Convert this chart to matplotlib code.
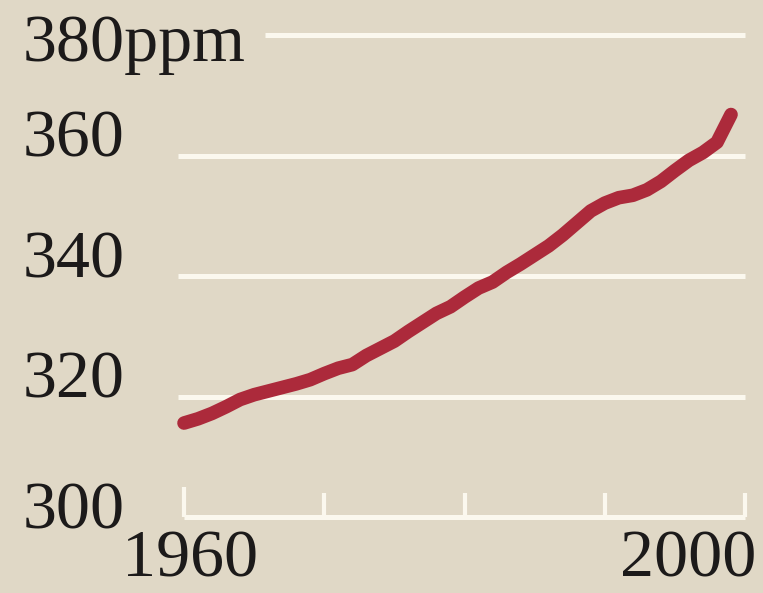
import matplotlib
matplotlib.use("Agg")

import matplotlib.pyplot as plt
import matplotlib.transforms as mtransforms

# CO2 concentration, ppm
years = list(range(1960, 2000))
co2_ppm = [
    315.6, 316.3, 317.2, 318.3, 319.5, 320.3, 320.9, 321.5, 322.1, 322.8,
    323.8, 324.7, 325.3, 326.8, 328.0, 329.2, 330.8, 332.3, 333.8, 334.9,
    336.5, 338.0, 339.0, 340.6, 342.0, 343.5, 345.0, 346.8, 348.8, 350.8,
    352.1, 353.0, 353.4, 354.3, 355.7, 357.5, 359.2, 360.5, 362.2, 366.8,
]
y_ticks = [300, 320, 340, 360, 380]
y_tick_labels = ["300", "320", "340", "360", "380ppm"]
x_ticks = [1960, 1970, 1980, 1990, 2000]
x_labels = {1960: "1960", 2000: "2000"}

background = "#e0d8c6"
grid_colour = "#fbf8ee"
line_colour = "#ac2a3b"
text_colour = "#1c1a1a"

figure = plt.figure(figsize=(7.63, 5.93), dpi=100, facecolor=background)
axes = figure.add_axes([0, 0, 1, 1])
axes.set_facecolor(background)
axes.set_xlim(1946.88, 2001.28)
axes.set_ylim(287.39, 385.81)
axes.axis("off")

# white gridlines
for value in y_ticks:
    if value == 300:
        start = 1960
    elif value == 380:
        start = 1965.8
    else:
        start = 1959.6
    axes.plot([start, 2000], [value, value], color=grid_colour,
              linewidth=3.6, solid_capstyle="butt", zorder=1)

# ticks rising from the baseline
for year in x_ticks:
    height = 5.0 if year == 1960 else 4.0
    axes.plot([year, year], [300, 300 + height], color=grid_colour,
              linewidth=3.0, solid_capstyle="butt", zorder=1)

axes.plot(years, co2_ppm, color=line_colour, linewidth=9.8,
          solid_capstyle="round", solid_joinstyle="round", zorder=3)

serif = ["Liberation Serif", "DejaVu Serif"]
blend = mtransforms.blended_transform_factory(axes.transAxes, axes.transData)
for value, label in zip(y_ticks, y_tick_labels):
    if value == 380:
        shift = -26
    elif value == 300:
        shift = -11
    else:
        shift = -1
    offset = mtransforms.offset_copy(blend, fig=figure, y=shift, units="dots")
    axes.text(0.029, value, label, transform=offset, ha="left", va="baseline",
              fontsize=49, family=serif, color=text_colour, zorder=4)

label_blend = mtransforms.blended_transform_factory(axes.transData, axes.transAxes)
for year, label in x_labels.items():
    if year == 1960:
        axes.text(year + 0.4, 0.004, label, transform=label_blend, ha="center",
                  va="bottom", fontsize=49, family=serif, color=text_colour)
    else:
        axes.text(year + 0.8, 0.004, label, transform=label_blend, ha="right",
                  va="bottom", fontsize=49, family=serif, color=text_colour)

figure.savefig("out.png", dpi=100, facecolor=background)
